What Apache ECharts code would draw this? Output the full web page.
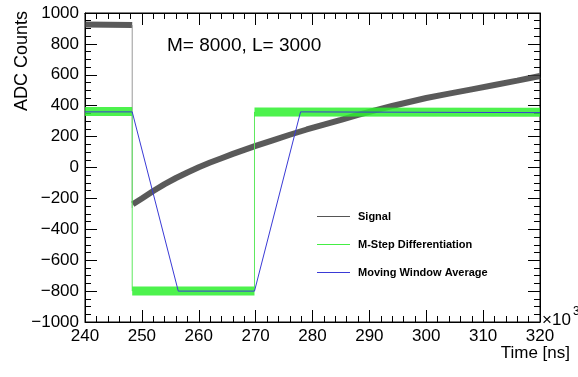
<!DOCTYPE html>
<html>
<head>
<meta charset="utf-8">
<script src="https://cdn.jsdelivr.net/npm/echarts/dist/echarts.min.js"></script>
<style>
  html, body { margin: 0; padding: 0; background: #fff; }
  #chart { width: 578px; height: 377px; }
</style>
</head>
<body>
<div id="chart"></div>
<script>
// data (time in 10^3 ns, ADC counts)
const xTickValues = [240, 250, 260, 270, 280, 290, 300, 310, 320];
const xTickLabels = ['240', '250', '260', '270', '280', '290', '300', '310', '320'];
const yTickValues = [-1000, -800, -600, -400, -200, 0, 200, 400, 600, 800, 1000];
const yTickLabels = ['\u22121000', '\u2212800', '\u2212600', '\u2212400', '\u2212200', '0', '200', '400', '600', '800', '1000'];

const signalFlat = [[240, 925], [248.3, 922]];
const signalDrop = [[248.3, 922], [248.3, -262]];
const signalRise = [
  [248.4, -238], [250, -200], [252, -152], [254, -108], [256, -68], [258, -32],
  [260, 2], [262, 32], [264, 60], [266, 88], [268, 114], [270, 140],
  [273, 176], [276, 212], [279, 246], [282, 278], [285, 308], [288, 340],
  [291, 370], [294, 398], [297, 424], [300, 450], [304, 478], [308, 506],
  [312, 534], [316, 562], [320, 592]
];

const mstepHigh1 = [[240, 362], [248.3, 362]];
const mstepFall = [[248.3, 362], [248.3, -800]];
const mstepLow = [[248.3, -800], [269.8, -800]];
const mstepRise = [[269.8, -800], [269.8, 360]];
const mstepHigh2 = [[269.8, 360], [320, 357]];

const mwa = [[240, 360], [248.3, 360], [256.4, -800], [269.8, -800], [277.9, 360], [320, 355]];

const FONT = 'Liberation Sans';
const SIGNAL = 'Signal';
const MSTEP = 'M-Step Differentiation';
const MWA = 'Moving Window Average';

const chart = echarts.init(document.getElementById('chart'));

function lineSeries(name, data, color, width, z, opacity) {
  return {
    name: name,
    type: 'line',
    data: data,
    symbol: 'none',
    showSymbol: false,
    z: z,
    color: color,
    lineStyle: { color: color, width: width, opacity: opacity == null ? 1 : opacity },
    animation: false
  };
}

function tickAxis(extra) {
  return Object.assign({
    type: 'value',
    axisLine: { show: true, onZero: false, lineStyle: { color: '#000', width: 1 } },
    axisTick: { show: true, inside: true, length: 12, lineStyle: { color: '#000' } },
    splitLine: { show: false },
    minorSplitLine: { show: false }
  }, extra);
}

const xLabel = {
  show: true, color: '#000', fontFamily: FONT, fontSize: 17, margin: 6,
  formatter: v => { const i = xTickValues.indexOf(v); return i < 0 ? '' : xTickLabels[i]; }
};
const yLabel = {
  show: true, color: '#000', fontFamily: FONT, fontSize: 17, margin: 6,
  formatter: v => { const i = yTickValues.indexOf(v); return i < 0 ? '' : yTickLabels[i]; }
};
const xMinor = { show: true, splitNumber: 5, length: 6, lineStyle: { color: '#000' } };
const yMinor = { show: true, splitNumber: 4, length: 6, lineStyle: { color: '#000' } };

// legend entries drawn as thin strokes, not the thick bands
function legendItem(name, color) {
  return { name: name, icon: 'rect', itemStyle: { color: color, borderWidth: 0 }, lineStyle: { width: 0 } };
}

const option = {
  backgroundColor: '#fff',
  animation: false,
  grid: {
    left: 85, right: 38, top: 13, bottom: 55,
    show: true, borderColor: '#000', borderWidth: 1, backgroundColor: 'transparent'
  },
  xAxis: [
    tickAxis({ position: 'bottom', min: 240, max: 320, interval: 10, minorTick: xMinor, axisLabel: xLabel }),
    tickAxis({ position: 'top', min: 240, max: 320, interval: 10, minorTick: xMinor, axisLabel: { show: false } })
  ],
  yAxis: [
    tickAxis({ position: 'left', min: -1000, max: 1000, interval: 200, minorTick: yMinor, axisLabel: yLabel }),
    tickAxis({ position: 'right', min: -1000, max: 1000, interval: 200, minorTick: yMinor, axisLabel: { show: false } })
  ],
  legend: {
    orient: 'vertical',
    left: 312, top: 205,
    itemWidth: 33, itemHeight: 1, itemGap: 15,
    itemStyle: { borderWidth: 0 },
    lineStyle: { width: 0 },
    data: [legendItem(SIGNAL, '#555'), legendItem(MSTEP, '#44ee44'), legendItem(MWA, '#3a3ad6')],
    textStyle: { color: '#000', fontFamily: FONT, fontSize: 11, fontWeight: 'bold', lineHeight: 13, padding: [0, 0, 0, 3] }
  },
  graphic: [
    { type: 'text', x: 167, y: 46, style: { text: 'M= 8000, L= 3000', font: '19px "Liberation Sans"', fill: '#000', align: 'left', verticalAlign: 'middle' } },
    { type: 'text', x: 22, y: 11, rotation: Math.PI / 2, style: { text: 'ADC Counts', font: '18px "Liberation Sans"', fill: '#000', align: 'right', verticalAlign: 'middle' } },
    { type: 'text', x: 570, y: 353, style: { text: 'Time [ns]', font: '17px "Liberation Sans"', fill: '#000', align: 'right', verticalAlign: 'middle' } },
    { type: 'text', x: 542, y: 320, style: { text: '\u00d710', font: '17px "Liberation Sans"', fill: '#000', align: 'left', verticalAlign: 'middle' } },
    { type: 'text', x: 573, y: 312, style: { text: '3', font: '12px "Liberation Sans"', fill: '#000', align: 'left', verticalAlign: 'middle' } }
  ],
  series: [
    lineSeries(SIGNAL, signalFlat, '#3d3d3d', 6, 2, 0.85),
    lineSeries(SIGNAL, signalDrop, '#9a9a9a', 1, 2),
    lineSeries(SIGNAL, signalRise, '#3d3d3d', 6, 2, 0.85),
    lineSeries(MSTEP, mstepHigh1, '#2ef02e', 9, 3, 0.85),
    lineSeries(MSTEP, mstepFall, '#5ee85e', 1, 3),
    lineSeries(MSTEP, mstepLow, '#2ef02e', 9, 3, 0.85),
    lineSeries(MSTEP, mstepRise, '#5ee85e', 1, 3),
    lineSeries(MSTEP, mstepHigh2, '#2ef02e', 9, 3, 0.85),
    lineSeries(MWA, mwa, '#3a3ad6', 1, 4)
  ]
};

chart.setOption(option);
</script>
</body>
</html>
